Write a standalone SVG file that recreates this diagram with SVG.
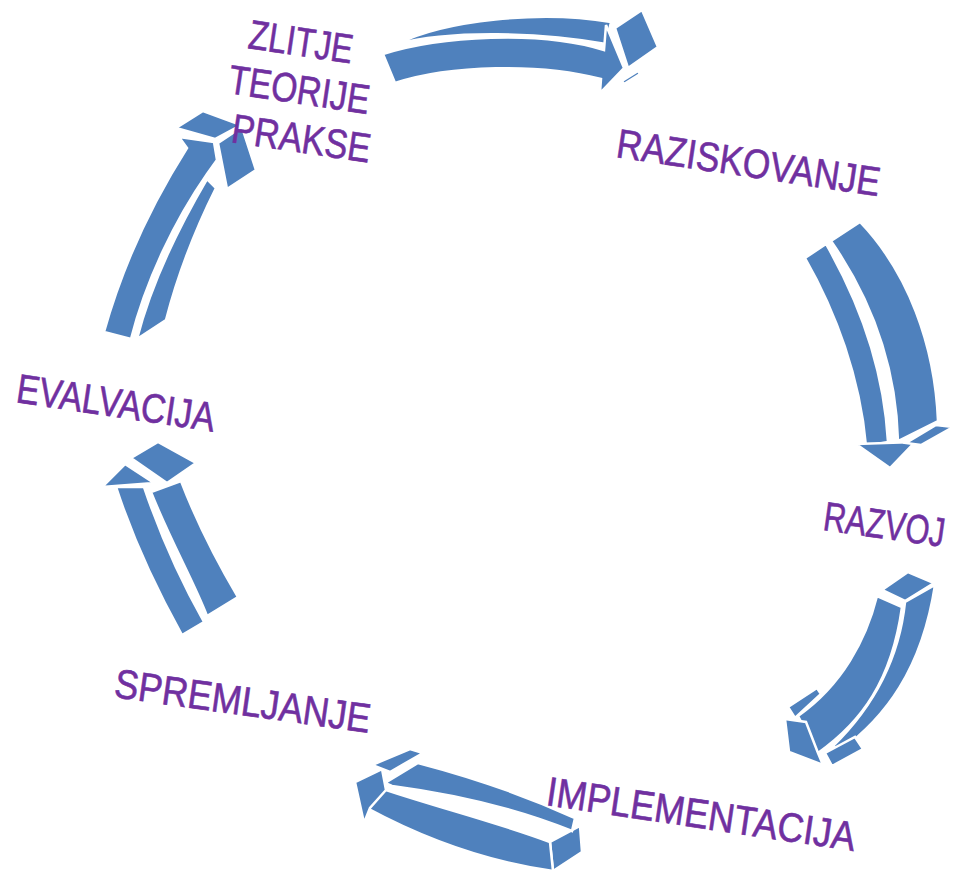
<svg xmlns="http://www.w3.org/2000/svg" width="967" height="874" viewBox="0 0 967 874">
<style>
.a{fill:#4F81BD;stroke:#FFFFFF;stroke-width:2.5;stroke-linejoin:miter}
.t{fill:#7030A0;stroke:#7030A0;stroke-width:0.6;font-family:"Liberation Sans Narrow","Liberation Sans",Arial,sans-serif;font-size:41px}
</style>
<rect width="967" height="874" fill="#FFFFFF"/>
<g id="connectors">
<g id="arrow1">
<path class="a" d="M397,44 C445,20 540,10 611,22 L606,44 C540,32 450,30 397,44 Z"/>
<path class="a" d="M383,54 C440,36 540,30 604,50 L606,25 L624,68 L600,93 L601,79 C540,63 450,65 395,83 Z"/>
<polygon class="a" points="615,28 642,10 658,47 628,68"/>
<polygon class="a" points="622,81 638,71 640,74 624,84"/>
</g>
<g id="arrow2">
<path class="a" d="M831,241 C872,300 896,365 898,441 L938,421 C935,345 908,272 860,222 Z"/>
<path class="a" d="M805,258 C836,312 860,378 866,446 L888,442 C884,370 861,305 826,244 Z"/>
<polygon class="a" points="856,444 915,442 890,468"/>
<polygon class="a" points="906,443 936,425 953,427 921,445"/>
</g>
<g id="arrow3">
<polygon class="a" points="882,590 908,572 934,583 905,601"/>
<path class="a" d="M905,602 C900,650 880,700 833,746 L840,751 C885,718 922,670 935,585 Z"/>
<path class="a" d="M877,596 C866,640 842,685 798,716 L818,753 C862,722 892,680 902,607 Z"/>
<polygon class="a" points="785,719 806,722 818,753 823,765 789,752"/>
<polygon class="a" points="788,707 817,688 821,694 795,718"/>
<polygon class="a" points="825,753 855,737 863,749 832,766"/>
</g>
<g id="arrow4">
<polygon class="a" points="550,842 580,826 582,852 553,871"/>
<path class="a" d="M385,783 L418,763 C460,774 520,793 575,818 L572,831 C520,810 460,795 392,786 Z"/>
<path class="a" d="M383,789 C440,808 500,823 550,842 L553,871 C490,862 430,842 367,808 Z"/>
<polygon class="a" points="355,782 382,769 386,790 370,808 364,823"/>
<polygon class="a" points="372,765 410,749 423,753 390,772"/>
</g>
<g id="arrow5">
<polygon class="a" points="131,458 158,442 196,463 167,483"/>
<path class="a" d="M151,492 C170,540 194,582 207,616 L238,597 C216,560 196,520 181,481 Z"/>
<path class="a" d="M116,487 C134,542 158,592 182,635 L204,622 C186,590 162,540 144,487 Z"/>
<polygon class="a" points="125,464 102,487 154,483"/>
</g>
<g id="arrow6">
<polygon class="a" points="176,128 203,111 241,125 215,139"/>
<polygon class="a" points="218,143 242,127 256,170 227,189"/>
<path class="a" d="M207,179 C180,225 152,280 137,339 L166,320 C179,270 196,228 216,188 Z"/>
<path class="a" d="M179,137 L214,142 L217,160 L207,174 C175,220 146,280 131,339 L104,332 C124,260 154,200 187,148 Z"/>
</g>
</g>
<g id="node-zlitje">
<text class="t" x="247" y="48" transform="rotate(8.5 247 48)" textLength="105" lengthAdjust="spacingAndGlyphs">ZLITJE</text>
<text class="t" x="227" y="93" transform="rotate(8.5 227 93)" textLength="142" lengthAdjust="spacingAndGlyphs">TEORIJE</text>
<text class="t" x="230" y="142" transform="rotate(8.5 230 142)" textLength="140" lengthAdjust="spacingAndGlyphs">PRAKSE</text>
</g>
<g id="node-raziskovanje">
<text class="t" x="615" y="157" transform="rotate(8.5 615 157)" textLength="266" lengthAdjust="spacingAndGlyphs">RAZISKOVANJE</text>
</g>
<g id="node-razvoj">
<text class="t" x="822" y="530" transform="rotate(8 822 530)" textLength="122" lengthAdjust="spacingAndGlyphs">RAZVOJ</text>
</g>
<g id="node-implementacija">
<text class="t" x="545" y="805" transform="rotate(8.5 545 805)" textLength="312" lengthAdjust="spacingAndGlyphs">IMPLEMENTACIJA</text>
</g>
<g id="node-spremljanje">
<text class="t" x="113" y="697" transform="rotate(8 113 697)" textLength="258" lengthAdjust="spacingAndGlyphs">SPREMLJANJE</text>
</g>
<g id="node-evalvacija">
<text class="t" x="15" y="402" transform="rotate(8.5 15 402)" textLength="200" lengthAdjust="spacingAndGlyphs">EVALVACIJA</text>
</g>
</svg>
